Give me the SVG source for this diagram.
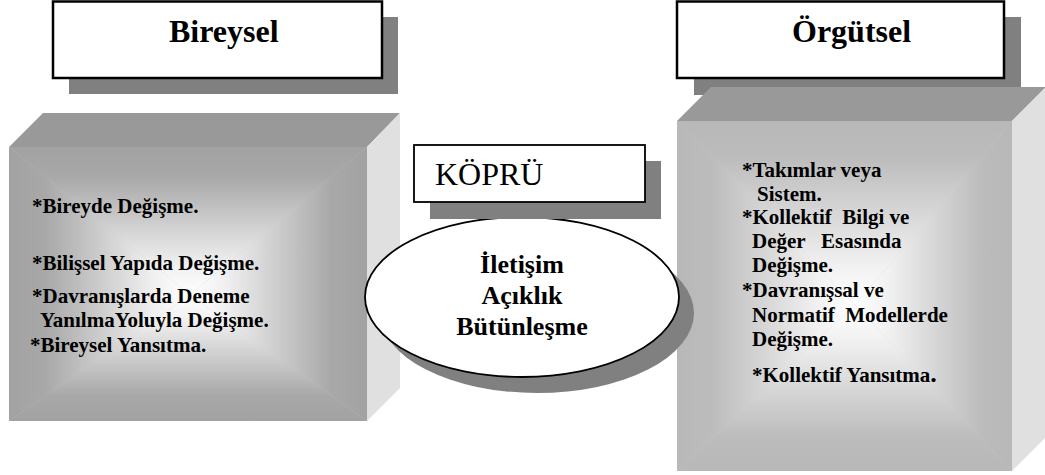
<svg xmlns="http://www.w3.org/2000/svg" width="1045" height="475" viewBox="0 0 1045 475">
<style>
.title{font-family:"Liberation Serif","Times New Roman",serif;font-weight:bold;font-size:32px;fill:#000}
.item{font-family:"Liberation Serif","Times New Roman",serif;font-weight:bold;font-size:21px;fill:#000;white-space:pre}
.mid{font-family:"Liberation Serif","Times New Roman",serif;font-weight:bold;font-size:26px;fill:#000;text-anchor:middle}
.kop{font-family:"Liberation Serif","Times New Roman",serif;font-size:32px;fill:#000}
.shadow{fill:#808080}
.tbox{fill:#fff;stroke:#000;stroke-width:2.5}
.kbox{fill:#fff;stroke:#000;stroke-width:1.8}
.top{fill:#999}
.side{fill:#e0e0e0}
</style>
<defs>
<linearGradient id="ga"><stop offset="0" stop-color="#a2a2a2"/><stop offset="0.2" stop-color="#a8a8a8"/><stop offset="0.8" stop-color="#f0f0f0"/><stop offset="1" stop-color="#ffffff"/></linearGradient>
<linearGradient id="gb"><stop offset="0" stop-color="#b8b8b8"/><stop offset="0.2" stop-color="#bcbcbc"/><stop offset="0.8" stop-color="#f2f2f2"/><stop offset="1" stop-color="#ffffff"/></linearGradient>
<linearGradient id="aT" href="#ga" gradientUnits="userSpaceOnUse" x1="0" y1="147" x2="0" y2="295"/>
<linearGradient id="aB" href="#ga" gradientUnits="userSpaceOnUse" x1="0" y1="421" x2="0" y2="295"/>
<linearGradient id="aL" href="#ga" gradientUnits="userSpaceOnUse" x1="9" y1="0" x2="190" y2="0"/>
<linearGradient id="aR" href="#ga" gradientUnits="userSpaceOnUse" x1="367" y1="0" x2="190" y2="0"/>
<linearGradient id="bT" href="#gb" gradientUnits="userSpaceOnUse" x1="0" y1="121" x2="0" y2="305"/>
<linearGradient id="bB" href="#gb" gradientUnits="userSpaceOnUse" x1="0" y1="471" x2="0" y2="305"/>
<linearGradient id="bL" href="#gb" gradientUnits="userSpaceOnUse" x1="677" y1="0" x2="855" y2="0"/>
<linearGradient id="bR" href="#gb" gradientUnits="userSpaceOnUse" x1="1012" y1="0" x2="855" y2="0"/>
</defs>
<rect width="1045" height="475" fill="#fff"/>

<g id="node-bireysel-title">
<rect class="shadow" x="69" y="17" width="329" height="77"/>
<rect class="tbox" x="53" y="1.5" width="329" height="76.5"/>
<text class="title" x="169" y="42">Bireysel</text>
</g>

<g id="node-orgutsel-title">
<rect class="shadow" x="694" y="17" width="327" height="78"/>
<rect class="tbox" x="677" y="1.5" width="327" height="76.5"/>
<text class="title" x="792" y="42">Örgütsel</text>
</g>

<g id="node-bireysel-box">
<polygon class="top" points="9,147 43,113 400,113 367,147"/>
<polygon class="side" points="367,147 400,113 400,388 367,421"/>
<rect x="9" y="147" width="358" height="274" fill="#c4c4c4"/>
<polygon points="9,147 367,147 190,295" fill="url(#aT)"/>
<polygon points="9,421 367,421 190,295" fill="url(#aB)"/>
<polygon points="9,147 9,421 190,295" fill="url(#aL)"/>
<polygon points="367,147 367,421 190,295" fill="url(#aR)"/>
<text class="item" x="32" y="213">*Bireyde Değişme.</text>
<text class="item" x="32" y="270">*Bilişsel Yapıda Değişme.</text>
<text class="item" x="32" y="303">*Davranışlarda Deneme</text>
<text class="item" x="40" y="327">YanılmaYoluyla Değişme.</text>
<text class="item" x="30" y="352">*Bireysel Yansıtma.</text>
</g>

<g id="node-orgutsel-box">
<polygon class="top" points="677,121 711,87 1046,87 1012,121"/>
<polygon class="side" points="1012,121 1046,87 1046,437 1012,471"/>
<rect x="677" y="121" width="335" height="350" fill="#cfcfcf"/>
<polygon points="677,121 1012,121 855,305" fill="url(#bT)"/>
<polygon points="677,471 1012,471 855,305" fill="url(#bB)"/>
<polygon points="677,121 677,471 855,305" fill="url(#bL)"/>
<polygon points="1012,121 1012,471 855,305" fill="url(#bR)"/>
<text class="item" x="742" y="177">*Takımlar veya</text>
<text class="item" x="757" y="201">Sistem.</text>
<text class="item" x="742" y="224">*Kollektif  Bilgi ve</text>
<text class="item" x="752" y="248">Değer   Esasında</text>
<text class="item" x="752" y="272">Değişme.</text>
<text class="item" x="742" y="297">*Davranışsal ve</text>
<text class="item" x="752" y="322">Normatif  Modellerde</text>
<text class="item" x="752" y="346">Değişme.</text>
<text class="item" x="752" y="382">*Kollektif Yansıtma<tspan font-size="26">.</tspan></text>
</g>

<g id="node-iletisim">
<ellipse class="shadow" cx="537" cy="313" rx="157" ry="80"/>
<ellipse cx="522" cy="297" rx="157" ry="80" fill="#fff" stroke="#000" stroke-width="1.8"/>
<text class="mid" x="522" y="273">İletişim</text>
<text class="mid" x="522" y="304">Açıklık</text>
<text class="mid" x="522" y="335">Bütünleşme</text>
</g>

<g id="node-kopru">
<rect class="shadow" x="430" y="161" width="231" height="58"/>
<rect class="kbox" x="414" y="145" width="231" height="57"/>
<text class="kop" x="435" y="185">KÖPRÜ</text>
</g>

<g id="connectors"/>
</svg>
